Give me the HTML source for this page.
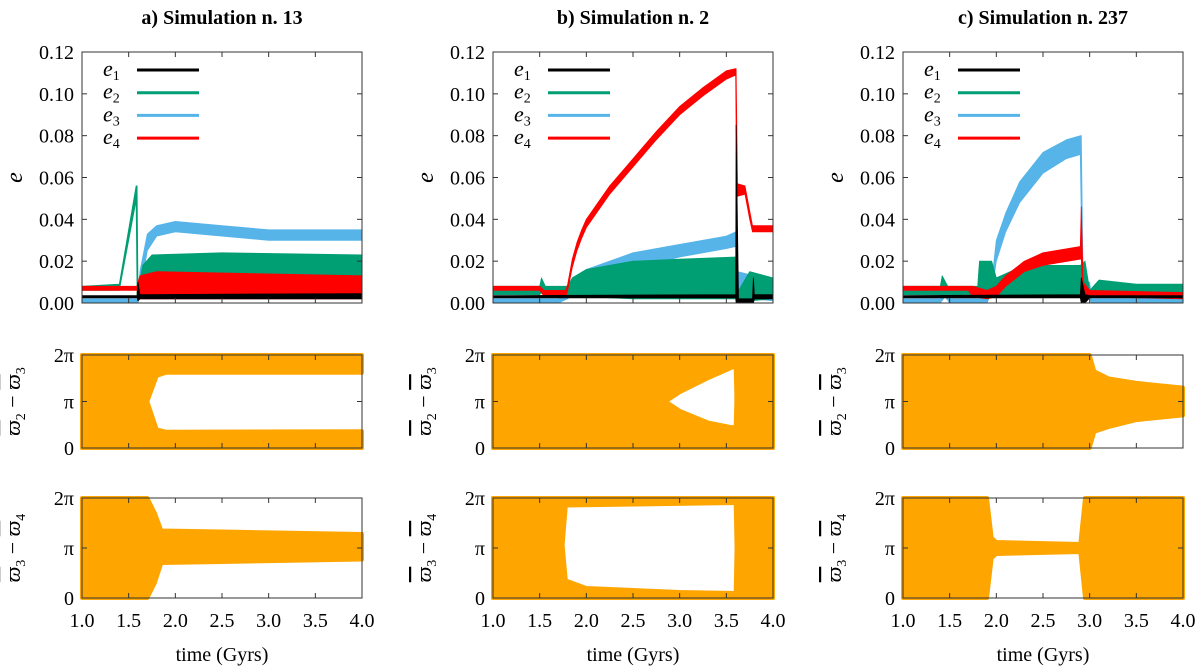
<!DOCTYPE html>
<html><head><meta charset="utf-8"><style>
body{margin:0;background:#fff;}
svg{display:block;}
svg text{font-family:"Liberation Serif","DejaVu Serif",serif;}
</style></head><body>
<svg id="fig" width="1200" height="672" viewBox="0 0 1200 672" xmlns="http://www.w3.org/2000/svg" font-family="Liberation Serif, DejaVu Serif, serif"></svg>
<script>
// ---------- data ----------
const titles = ["a) Simulation n. 13", "b) Simulation n. 2", "c) Simulation n. 237"];
const xTicks = [1.0, 1.5, 2.0, 2.5, 3.0, 3.5, 4.0];
const xTickLabels = ["1.0","1.5","2.0","2.5","3.0","3.5","4.0"];
const eTicks = [0, 0.02, 0.04, 0.06, 0.08, 0.10, 0.12];
const eTickLabels = ["0.00","0.02","0.04","0.06","0.08","0.10","0.12"];
const angTicks = [0, 1, 2];
const angTickLabels = ["0","π","2π"];
const seriesNames = ["e1","e2","e3","e4"];
const seriesColors = ["#000000","#009e73","#56b4e9","#ff0000"];
// e-bands: [time, low, high]
const aE1 = [[1,0.0025,0.0035],[1.59,0.0025,0.0035],[1.6,0.001,0.010],[1.62,0.002,0.004],[4,0.002,0.0045]];
const aE2 = [[1,0.006,0.008],[1.4,0.006,0.009],[1.58,0.049,0.056],[1.59,0.003,0.056],[1.6,0.003,0.006],[1.65,0.010,0.018],[1.75,0.012,0.023],[2.5,0.012,0.024],[4,0.012,0.023]];
const aE3 = [[1,0,0.002],[1.6,0,0.002],[1.62,0.005,0.015],[1.7,0.025,0.033],[1.8,0.032,0.037],[2.0,0.034,0.039],[2.5,0.032,0.037],[3.0,0.030,0.035],[4,0.030,0.035]];
const aE4 = [[1,0.006,0.008],[1.59,0.006,0.008],[1.6,0.001,0.010],[1.62,0.002,0.013],[1.8,0.002,0.015],[4,0.002,0.013]];
const bE1 = [[1,0.0025,0.0035],[3.6,0.0025,0.004],[3.605,0,0.085],[3.63,0,0.002],[3.78,0,0.002],[3.79,0,0.012],[3.8,0.002,0.004],[4,0.002,0.004]];
const bE2 = [[1,0.004,0.008],[1.5,0.004,0.008],[1.52,0.005,0.012],[1.56,0.005,0.008],[1.8,0.004,0.008],[1.85,0.003,0.012],[2.0,0.003,0.016],[2.5,0.002,0.020],[3.0,0.002,0.021],[3.6,0.002,0.022],[3.62,0,0.005],[3.75,0.001,0.015],[4,0.002,0.012]];
const bE3 = [[1,0,0.002],[1.7,0,0.002],[1.8,0.002,0.006],[1.9,0.006,0.012],[2.0,0.010,0.016],[2.5,0.016,0.024],[3.0,0.022,0.028],[3.5,0.026,0.032],[3.6,0.027,0.034],[3.62,0,0.015],[3.8,0.002,0.013],[4,0.001,0.008]];
const bE4 = [[1,0.006,0.008],[1.5,0.006,0.008],[1.55,0.003,0.006],[1.78,0.003,0.006],[1.8,0.006,0.009],[1.85,0.017,0.021],[1.9,0.025,0.029],[1.95,0.031,0.035],[2.0,0.036,0.040],[2.25,0.052,0.056],[2.5,0.065,0.069],[2.75,0.078,0.082],[3.0,0.090,0.094],[3.25,0.099,0.103],[3.5,0.107,0.111],[3.6,0.109,0.112],[3.605,0.084,0.112],[3.62,0.051,0.057],[3.7,0.052,0.056],[3.75,0.040,0.044],[3.78,0.034,0.037],[4,0.034,0.037]];
const cE1 = [[1,0.0025,0.0035],[2.9,0.0025,0.004],[2.91,0,0.012],[2.95,0,0.004],[3.0,0.0025,0.0035],[4,0.0025,0.0035]];
const cE2 = [[1,0.004,0.008],[1.4,0.004,0.008],[1.42,0.004,0.013],[1.48,0.004,0.008],[1.8,0.004,0.008],[1.82,0.004,0.020],[1.95,0.004,0.020],[2.0,0.003,0.012],[2.2,0.004,0.016],[2.5,0.004,0.018],[2.9,0.004,0.018],[2.95,0.002,0.020],[3.0,0.003,0.006],[3.1,0.006,0.011],[3.5,0.005,0.009],[4,0.005,0.009]];
const cE3 = [[1,0,0.002],[1.4,0,0.002],[1.45,0.003,0.008],[1.5,0,0.002],[1.9,0,0.002],[1.95,0.005,0.010],[2.0,0.020,0.030],[2.1,0.034,0.043],[2.25,0.048,0.058],[2.5,0.062,0.072],[2.75,0.069,0.078],[2.9,0.071,0.080],[2.91,0.040,0.080],[2.93,0.002,0.010],[3.0,0.002,0.010],[3.02,0,0.002],[4,0,0.002]];
const cE4 = [[1,0.006,0.008],[1.7,0.006,0.008],[1.75,0.003,0.008],[1.9,0.002,0.006],[2.0,0.003,0.008],[2.1,0.008,0.013],[2.3,0.015,0.020],[2.5,0.018,0.024],[2.9,0.021,0.027],[2.91,0.021,0.046],[2.93,0.002,0.010],[3.0,0.003,0.006],[4,0.002,0.005]];
// angle bands in units of pi: [time, low, high]
const aMid1 = [[1,0,2],[1.65,0,2],[1.7,1.0,2],[1.8,1.55,2],[1.9,1.62,2],[4,1.62,2]];
const aMid2 = [[1,0,2],[1.65,0,2],[1.7,0,1.0],[1.8,0,0.4],[1.9,0,0.35],[4,0,0.36]];
const aBot1 = [[1,0,2],[1.7,0,2],[1.78,0.3,1.7],[1.85,0.7,1.35],[2.5,0.72,1.33],[4,0.77,1.28]];
const bMid1 = [[1,0,2],[2.85,1.0,2],[3.0,1.2,2],[3.3,1.5,2],[3.55,1.72,2],[3.6,1.75,2],[3.62,0,2],[4,0,2]];
const bMid2 = [[1,0,2],[2.85,0,1.0],[3.0,0,0.8],[3.3,0,0.55],[3.55,0,0.45],[3.6,0,0.45],[3.62,0,2],[4,0,2]];
const bBot1 = [[1,0,2],[1.7,0,2],[1.78,1.85,2],[3.6,1.9,2],[3.62,0,2],[4,0,2]];
const bBot2 = [[1,0,2],[1.7,0,2],[1.78,0,0.35],[2.0,0,0.2],[3.0,0,0.12],[3.6,0,0.1],[3.62,0,2],[4,0,2]];
const cMid1 = [[1,0,2],[3.0,0,2],[3.05,0.35,1.65],[3.2,0.45,1.5],[3.5,0.6,1.4],[4,0.7,1.3]];
const cBot1 = [[1,0,2],[1.9,0,2],[1.95,0.8,1.2],[2.0,0.88,1.12],[2.9,0.92,1.08],[2.95,0,2],[4,0,2]];

const panelE = [[aE3,aE2,aE4,aE1],[bE3,bE2,bE4,bE1],[cE3,cE2,cE4,cE1]];
const panelEColors = ["#56b4e9","#009e73","#ff0000","#000000"];
const panelMid = [[aMid1,aMid2],[bMid1,bMid2],[cMid1]];
const panelBot = [[aBot1],[bBot1,bBot2],[cBot1]];
const midLabels = [["2","3"],["2","3"],["2","3"]];
const botLabels = [["3","4"],["3","4"],["3","4"]];

// ---------- layout ----------
const NS = "http://www.w3.org/2000/svg";
const svg = document.getElementById("fig");
const FONT = "Liberation Serif, DejaVu Serif, serif";
const colX = [82, 493, 903];
const plotW = 280;
const top0 = 52, top1 = 303;
const mid0 = 355, mid1 = 448;
const bot0 = 498, bot1 = 598;
function el(tag, attrs, parent, text){
  const e = document.createElementNS(NS, tag);
  for (const k in attrs) e.setAttribute(k, attrs[k]);
  if (tag === "text") e.setAttribute("font-family", FONT);
  if (text !== undefined) e.textContent = text;
  (parent || svg).appendChild(e);
  return e;
}
function xScale(c, t){ return colX[c] + (t - 1) / 3 * plotW; }
function yE(v){ return top1 - v / 0.12 * (top1 - top0); }
function yAng(v, y0, y1){ return y1 - v / 2 * (y1 - y0); }
function bandPath(c, arr, yf){
  let d = "";
  arr.forEach((p,i)=>{ d += (i?"L":"M") + xScale(c,p[0]).toFixed(1) + "," + yf(p[2]).toFixed(1); });
  for (let i = arr.length-1; i >= 0; i--) d += "L" + xScale(c,arr[i][0]).toFixed(1) + "," + yf(arr[i][1]).toFixed(1);
  return d + "Z";
}

for (let c = 0; c < 3; c++){
  const g = el("g", {});
  
  
  const cx = colX[c] + plotW/2;
  const t = el("text", {x: cx, y: 24, "text-anchor":"middle", "font-size": 20, "font-weight":"bold"}, g, titles[c]);
  
  

  panelE[c].forEach((arr, i) => {
    const p = el("path", {d: bandPath(c, arr, yE), fill: panelEColors[i], stroke: panelEColors[i], "stroke-width": 0.8, "stroke-linejoin":"round"}, g);
    
    
  });
  panelMid[c].forEach(arr => {
    const p = el("path", {d: bandPath(c, arr, v=>yAng(v, mid0, mid1)), fill: "#ffa500", stroke: "#ffa500", "stroke-width": 4, "stroke-linejoin":"round"}, g);
    
    
  });
  panelBot[c].forEach(arr => {
    const p = el("path", {d: bandPath(c, arr, v=>yAng(v, bot0, bot1)), fill: "#ffa500", stroke: "#ffa500", "stroke-width": 4, "stroke-linejoin":"round"}, g);
    
    
  });

  [[top0,top1],[mid0,mid1],[bot0,bot1]].forEach(([y0,y1], k) => {
    const r = el("rect", {x: colX[c], y: y0, width: plotW, height: y1-y0, fill: "none", stroke: "#333", "stroke-width": 1}, g);
    
    
    xTicks.forEach(v => {
      const x = xScale(c, v);
      el("line", {x1:x, x2:x, y1:y1, y2:y1-5, stroke:"#333"}, g);
      el("line", {x1:x, x2:x, y1:y0, y2:y0+5, stroke:"#333"}, g);
    });
    const ticks = k === 0 ? eTicks : angTicks;
    const labels = k === 0 ? eTickLabels : angTickLabels;
    ticks.forEach((v, i) => {
      const y = k === 0 ? yE(v) : yAng(v, y0, y1);
      el("line", {x1:colX[c], x2:colX[c]+5, y1:y, y2:y, stroke:"#333"}, g);
      el("line", {x1:colX[c]+plotW, x2:colX[c]+plotW-5, y1:y, y2:y, stroke:"#333"}, g);
      const tl = el("text", {x: colX[c]-8, y: y+7, "text-anchor":"end", "font-size": 20}, g, labels[i]);
      
      
    });
  });
  xTicks.forEach((v, i) => {
    const tl = el("text", {x: xScale(c, v), y: 627, "text-anchor":"middle", "font-size": 20}, g, xTickLabels[i]);
    
    
  });
  const xl = el("text", {x: cx, y: 661, "text-anchor":"middle", "font-size": 20}, g, "time (Gyrs)");
  
  

  const ye = el("text", {x: 0, y: 0, "font-size": 24, "font-style":"italic", "text-anchor":"middle", transform: `translate(${colX[c]-60},${(top0+top1)/2}) rotate(-90)`}, g, "e");
  
  
  [[mid0,mid1,midLabels[c]],[bot0,bot1,botLabels[c]]].forEach(([y0,y1,lab]) => {
    const tt = el("text", {x:0, y:0, "font-size": 22, "text-anchor":"middle", transform:`translate(${colX[c]-62},${(y0+y1)/2}) rotate(-90)`}, g);
    
    
    el("tspan", {"text-decoration":"overline", "font-style":"italic"}, tt, "ϖ");
    el("tspan", {"font-size": 14, dy: 5}, tt, lab[0]);
    el("tspan", {dy: -5}, tt, " − ");
    el("tspan", {"text-decoration":"overline", "font-style":"italic"}, tt, "ϖ");
    el("tspan", {"font-size": 14, dy: 5}, tt, lab[1]);
  });

  seriesNames.forEach((n, i) => {
    const y = 70 + i * 22.7;
    const lg = el("g", {}, g);
    
    
    const tx = el("text", {x: colX[c]+21, y: y+6, "font-size": 22, "font-style":"italic"}, lg, "e");
    el("tspan", {"font-size": 14, dy: 4, "font-style":"normal"}, tx, String(i+1));
    el("line", {x1: colX[c]+55, x2: colX[c]+117, y1: y, y2: y, stroke: seriesColors[i], "stroke-width": 3}, lg);
  });
}
</script>
</body></html>
